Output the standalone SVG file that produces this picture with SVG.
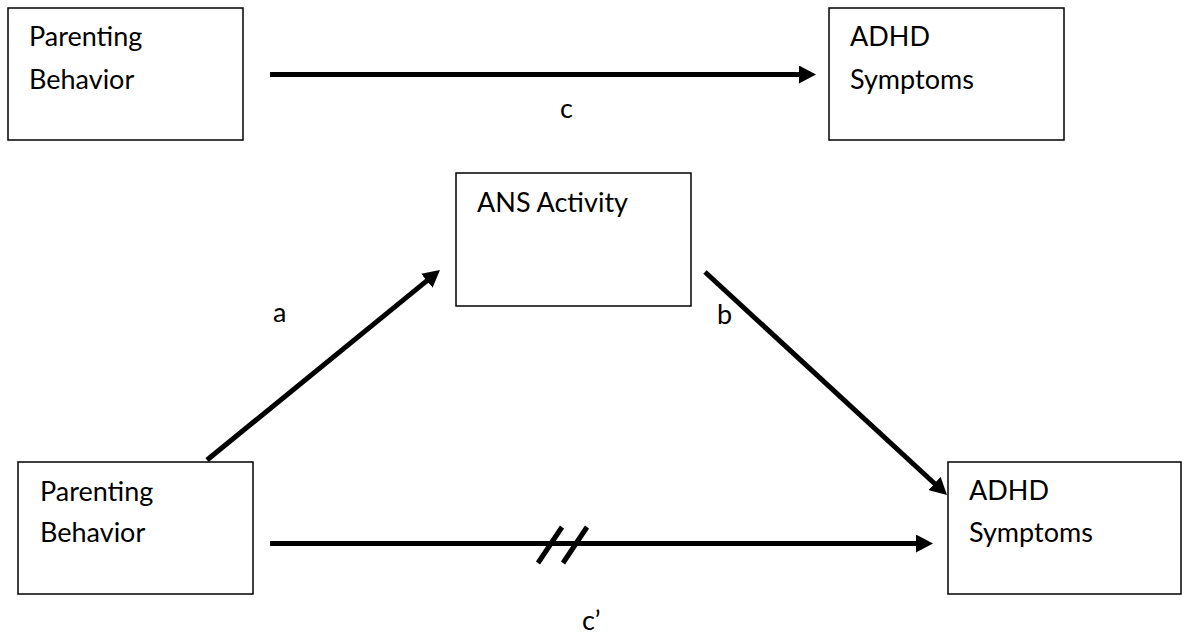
<svg xmlns="http://www.w3.org/2000/svg" width="1182" height="637" viewBox="0 0 1182 637">
<style>
.box{fill:#fff;stroke:#000;stroke-width:1.5}
.t{font-family:Lato,"Open Sans",sans-serif;font-size:27px;fill:#000}
.arr{stroke:#000;stroke-width:5;fill:none}
.tick{stroke:#000;stroke-width:5}
</style>
<defs>
<marker id="ah" markerUnits="userSpaceOnUse" markerWidth="17" markerHeight="18" refX="7" refY="9" orient="auto">
<path d="M0,0 L17,9 L0,18 z" fill="#000"/>
</marker>
</defs>
<rect width="1182" height="637" fill="#fff"/>
<g id="parenting-top">
<rect class="box" x="8" y="8" width="235" height="132"/>
<text class="t" x="29" y="46">Parenting</text>
<text class="t" x="29" y="89">Behavior</text>
</g>
<g id="adhd-top">
<rect class="box" x="829" y="8" width="235" height="132"/>
<text class="t" x="850" y="46">ADHD</text>
<text class="t" x="850" y="89">Symptoms</text>
</g>
<g id="ans">
<rect class="box" x="456" y="173" width="235" height="133"/>
<text class="t" x="477" y="212">ANS Activity</text>
</g>
<g id="parenting-bottom">
<rect class="box" x="18" y="462" width="235" height="132"/>
<text class="t" x="40" y="501">Parenting</text>
<text class="t" x="40" y="542">Behavior</text>
</g>
<g id="adhd-bottom">
<rect class="box" x="948" y="462" width="233" height="132"/>
<text class="t" x="969" y="500">ADHD</text>
<text class="t" x="969" y="542">Symptoms</text>
</g>
<g id="connectors">
<line class="arr" x1="270" y1="74.5" x2="806" y2="74.5" marker-end="url(#ah)"/>
<line class="arr" x1="207" y1="460" x2="432.25" y2="276.32" marker-end="url(#ah)"/>
<line class="arr" x1="705" y1="272" x2="939.65" y2="488.22" marker-end="url(#ah)"/>
<line class="arr" x1="270" y1="543.5" x2="923" y2="543.5" marker-end="url(#ah)"/>
<line class="tick" x1="538" y1="563" x2="562" y2="527"/>
<line class="tick" x1="563" y1="563" x2="587" y2="527"/>
<text class="t" x="560" y="118">c</text>
<text class="t" x="273" y="322">a</text>
<text class="t" x="717" y="324">b</text>
<text class="t" x="582" y="630">c’</text>
</g>
</svg>
